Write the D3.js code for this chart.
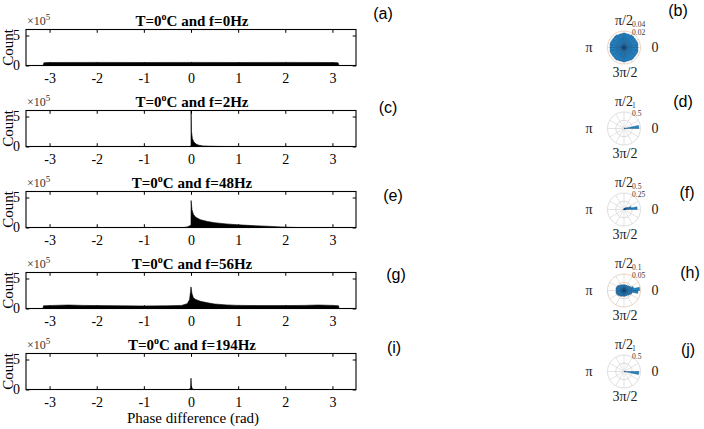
<!DOCTYPE html>
<html>
<head>
<meta charset="utf-8">
<script src="https://cdn.jsdelivr.net/npm/d3@7"></script>
<style>
  body { margin:0; background:#fff; }
  svg { display:block; }
</style>
</head>
<body>
<svg id="chart" width="704" height="429"></svg>
<script>
// ---------------- DATA ----------------
const freqs = ["0Hz", "2Hz", "48Hz", "56Hz", "194Hz"];
const xTicks = [-3, -2, -1, 0, 1, 2, 3];
const yTicks = [0, 5e5];
const yTickLabels = ["0", "5"];
const leftLabels = ["(a)", "(c)", "(e)", "(g)", "(i)"];
const rightLabels = ["(b)", "(d)", "(f)", "(h)", "(j)"];

// histogram outlines: [phase (rad), count in units of 1e5]
const histA = [[-3.14,0],[-3.12,0.45],[-3.0,0.5],[-2,0.52],[-1,0.5],[0,0.52],[1,0.5],[2,0.52],[3.0,0.5],[3.12,0.45],[3.14,0]];
const histC = [[-0.02,0],[-0.005,0.05],[0,0.3],[0.002,5.9],[0.01,2.5],[0.03,1.3],[0.06,0.8],[0.1,0.45],[0.15,0.25],[0.25,0.1],[0.4,0.04],[0.6,0.01],[0.8,0]];
const histE = [[-0.15,0],[-0.08,0.1],[-0.02,0.3],[0,0.5],[0.002,4.5],[0.02,3.0],[0.05,2.2],[0.1,1.7],[0.2,1.3],[0.35,1.0],[0.5,0.8],[0.75,0.6],[1.0,0.45],[1.3,0.32],[1.6,0.22],[1.9,0.1],[2.1,0.03],[2.3,0]];
const histG = [[-3.14,0],[-3.13,0.45],[-2.9,0.52],[-2.6,0.58],[-2.3,0.52],[-2.0,0.48],[-1.5,0.45],[-1.0,0.42],[-0.5,0.45],[-0.2,0.52],[-0.08,0.8],[-0.03,1.5],[-0.01,2.8],[0,3.6],[0.02,2.5],[0.05,1.8],[0.1,1.5],[0.2,1.2],[0.35,0.95],[0.5,0.75],[0.75,0.6],[1.0,0.52],[1.5,0.48],[2.0,0.48],[2.4,0.52],[2.7,0.58],[3.0,0.52],[3.13,0.45],[3.14,0]];
const histI = [[-0.05,0],[-0.01,0.2],[0,1.9],[0.01,0.5],[0.03,0.1],[0.06,0]];
const histograms = [histA, histC, histE, histG, histI];

// polar histograms: 30 bins of 12 degrees, starting at 0 deg (probability)
const polarBinDeg = 12;
const polarB = [0.034,0.035,0.034,0.034,0.035,0.034,0.034,0.035,0.034,0.034,0.035,0.034,0.034,0.035,0.034,0.034,0.035,0.034,0.034,0.035,0.034,0.034,0.035,0.034,0.034,0.035,0.034,0.034,0.035,0.034];
const polarD = [0.9,0.05,0.01,0,0,0,0,0,0,0,0,0,0,0,0,0,0,0,0,0,0,0,0,0,0,0,0,0,0,0.02];
const polarF = [0.4,0.22,0.12,0.08,0.06,0.04,0.03,0.02,0.015,0.01,0,0,0,0,0,0,0,0,0,0,0,0,0,0,0,0,0,0,0,0.01];
const polarH = [0.095,0.06,0.045,0.04,0.035,0.035,0.035,0.035,0.035,0.038,0.04,0.045,0.048,0.05,0.048,0.048,0.05,0.048,0.045,0.04,0.038,0.035,0.035,0.035,0.035,0.035,0.04,0.045,0.05,0.085];
const polarJ = [0.08,0,0,0,0,0,0,0,0,0,0,0,0,0,0,0,0,0,0,0,0,0,0,0,0,0,0,0,0,0.9];
const polars = [polarB, polarD, polarF, polarH, polarJ];
const rMax = [0.04, 1, 0.5, 0.1, 1];
const rTicks = [[0.02, 0.04], [0.5, 1], [0.25, 0.5], [0.05, 0.1], [0.5, 1]];
const rTickLabels = [["0.02", "0.04"], ["0.5", "1"], ["0.25", "0.5"], ["0.05", "0.1"], ["0.5", "1"]];
const thetaLabels = ["0", "π/2", "π", "3π/2"];

// ---------------- LAYOUT ----------------
const svg = d3.select("#chart");
const serif = "'Liberation Serif', 'Times New Roman', serif";
const sans = "'Liberation Sans', Arial, sans-serif";
const plotL = 26, plotR = 356, top0 = 29.5, step = 81, ph = 36;
const leftLabelPos = [[383,13],[388,107],[393,195],[396,274],[394,347]];
const rightLabelPos = [[678,10],[683,101],[687,192],[690,272],[688,349]];

const x = d3.scaleLinear().domain([-3.5, 3.5]).range([plotL, plotR]);

histograms.forEach((hist, i) => {
  const top = top0 + i * step, bottom = top + ph;
  const y = d3.scaleLinear().domain([0, 6e5]).range([bottom, top]);
  const g = svg.append("g");

  const area = d3.area().x(d => x(d[0])).y0(y(0)).y1(d => y(d[1] * 1e5));
  g.append("path").datum(hist).attr("d", area).attr("fill", "#000").attr("stroke", "#000").attr("stroke-width", 0.6);

  const tl = 3.3;
  const axB = d3.axisBottom(x).tickValues(xTicks).tickSize(-tl).tickPadding(8).tickFormat(d3.format("d"));
  const axT = d3.axisTop(x).tickValues(xTicks).tickSize(-tl).tickFormat("");
  const axL = d3.axisLeft(y).tickValues(yTicks).tickSize(-tl).tickPadding(6).tickFormat((d, k) => yTickLabels[k]);
  const axR = d3.axisRight(y).tickValues(yTicks).tickSize(-tl).tickFormat("");
  const gb = g.append("g").attr("transform", `translate(0,${bottom})`).call(axB);
  const gt = g.append("g").attr("transform", `translate(0,${top})`).call(axT);
  const gl = g.append("g").attr("transform", `translate(${plotL},0)`).call(axL);
  const gr = g.append("g").attr("transform", `translate(${plotR},0)`).call(axR);
  [gb, gt, gl, gr].forEach(a => {
    a.select(".domain").remove();
    a.selectAll("line").attr("stroke", "#000").attr("stroke-width", 1);
    a.selectAll("text").attr("font-family", serif).attr("font-size", 14).attr("fill", "#000");
  });
  gb.selectAll("text").text(d => d < 0 ? "-" + Math.abs(d) : d);

  g.append("rect").attr("x", plotL).attr("y", top).attr("width", plotR - plotL).attr("height", ph)
    .attr("fill", "none").attr("stroke", "#000").attr("stroke-width", 1.1);

  const ex = g.append("text").attr("x", plotL + 1).attr("y", top - 5).attr("font-family", serif).attr("font-size", 12).attr("fill", "#333");
  ex.append("tspan").text("×10");
  ex.append("tspan").attr("dy", -5).attr("font-size", 9).text("5");

  const t = g.append("text").attr("x", (plotL + plotR) / 2 + 1).attr("y", top - 4).attr("text-anchor", "middle")
    .attr("font-family", serif).attr("font-size", 15).attr("font-weight", "bold").attr("fill", "#000");
  t.append("tspan").text("T=0");
  t.append("tspan").attr("dy", -6).attr("font-size", 10).text("o");
  t.append("tspan").attr("dy", 6).text("C and f=" + freqs[i]);

  g.append("text").attr("transform", `translate(13,${top + ph / 2}) rotate(-90)`).attr("text-anchor", "middle")
    .attr("font-family", serif).attr("font-size", 15).attr("fill", "#000").text("Count");

  g.append("text").attr("x", leftLabelPos[i][0]).attr("y", leftLabelPos[i][1]).attr("dy", "0.35em").attr("text-anchor", "middle")
    .attr("font-family", sans).attr("font-size", 16).attr("fill", "#000").text(leftLabels[i]);
});

svg.append("text").attr("x", (plotL + plotR) / 2 + 2).attr("y", 423).attr("text-anchor", "middle")
  .attr("font-family", serif).attr("font-size", 15).attr("fill", "#000").text("Phase difference (rad)");

// ---------------- POLAR ----------------
const cx = 624, cy0 = 47.5, R = 16.5;
polars.forEach((vals, i) => {
  const cy = cy0 + i * step;
  const g = svg.append("g").attr("transform", `translate(${cx},${cy})`);
  const r = d3.scaleLinear().domain([0, rMax[i]]).range([0, R]);
  const gridColor = (i === 0 || i === 3) ? "#e6cdb8" : "#d9d9d9";
  d3.range(0, 360, 30).forEach(a => {
    const rad = a * Math.PI / 180;
    g.append("line").attr("x1", 0).attr("y1", 0).attr("x2", R * Math.cos(rad)).attr("y2", -R * Math.sin(rad))
      .attr("stroke", "#dcdcdc").attr("stroke-width", 0.8);
  });
  rTicks[i].forEach(v => {
    g.append("circle").attr("r", r(v)).attr("fill", "none").attr("stroke", gridColor).attr("stroke-width", 0.9);
  });
  const arc = d3.arc().innerRadius(0);
  vals.forEach((v, k) => {
    if (v <= 0) return;
    const t1 = k * polarBinDeg * Math.PI / 180, t2 = (k + 1) * polarBinDeg * Math.PI / 180;
    g.append("path").attr("d", arc({outerRadius: r(v), startAngle: Math.PI / 2 - t2, endAngle: Math.PI / 2 - t1}))
      .attr("fill", "#0072BD").attr("fill-opacity", 0.88).attr("stroke", "#123f6b").attr("stroke-width", 0.35);
  });
  rTicks[i].forEach((v, k) => {
    g.append("text").attr("x", 8).attr("y", -r(v) * 0.985 - 4).attr("font-family", serif).attr("font-size", 7.5)
      .attr("fill", "#333").text(rTickLabels[i][k]);
  });
  const tp = [[31, 0], [0, -27], [-35, 0], [1, 25]];
  thetaLabels.forEach((s, k) => {
    g.append("text").attr("x", tp[k][0]).attr("y", tp[k][1]).attr("dy", "0.35em").attr("text-anchor", "middle")
      .attr("font-family", serif).attr("font-size", 14).attr("fill", "#222").text(s);
  });
  svg.append("text").attr("x", rightLabelPos[i][0]).attr("y", rightLabelPos[i][1]).attr("dy", "0.35em").attr("text-anchor", "middle")
    .attr("font-family", sans).attr("font-size", 16).attr("fill", "#000").text(rightLabels[i]);
});
</script>
</body>
</html>
